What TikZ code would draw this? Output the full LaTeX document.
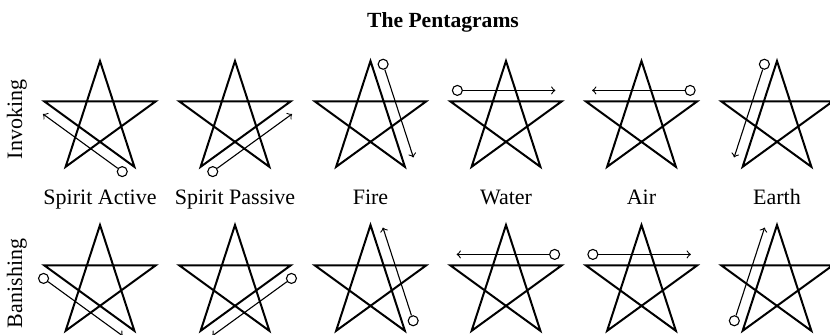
\documentclass[tikz,border=0pt]{standalone}
\usepackage{fontspec}
\setmainfont{Liberation Serif}
\usetikzlibrary{calc}
\tikzset{
  star/.style={line width=1pt},
  trace/.style={line width=0.55pt,->},
  ring/.style={circle,draw,line width=0.55pt,fill=white,inner sep=0pt,minimum size=5pt},
  caption/.style={font=\fontsize{11}{13}\selectfont}
}
\begin{document}
\begin{tikzpicture}[x=0.5pt,y=0.5pt]
\useasboundingbox (0,0) rectangle (830,-335);
\node[caption,font=\fontsize{10.8}{13}\selectfont\bfseries,anchor=base] (title) at (443,-28) {The Pentagrams};
% the twelve stars
\foreach \r/\y in {inv/-119.5,ban/-283.5}
  \foreach \s/\x in {sa/100,sp/235,fire/370.5,water/506,air/641.5,earth/777} {
    \coordinate (\r-\s) at (\x,\y);
    \coordinate (\r-\s-t) at ($(\r-\s)+(90:58.5)$);
    \coordinate (\r-\s-ul) at ($(\r-\s)+(162:58.5)$);
    \coordinate (\r-\s-ll) at ($(\r-\s)+(234:58.5)$);
    \coordinate (\r-\s-lr) at ($(\r-\s)+(306:58.5)$);
    \coordinate (\r-\s-ur) at ($(\r-\s)+(18:58.5)$);
    \draw[star] (\r-\s-t) -- (\r-\s-ll) -- (\r-\s-ur) -- (\r-\s-ul) -- (\r-\s-lr) -- cycle;
  }
% start ring and arrow beside one edge of each star
\foreach \s/\p/\q/\a in {inv-sa/lr/ul/90,inv-sp/ll/ur/-90,inv-fire/t/lr/90,
    inv-water/ul/ur/90,inv-air/ur/ul/-90,inv-earth/t/ll/-90,
    ban-sa/ul/lr/-90,ban-sp/ur/ll/90,ban-fire/lr/t/-90,
    ban-water/ur/ul/-90,ban-air/ul/ur/90,ban-earth/ll/t/90} {
  \node[ring] (\s-o) at ($(\s-\p)!3.5pt!(\s-\q)!5.5pt!\a:(\s-\q)$) {};
  \coordinate (\s-e) at ($(\s-\p)!52.5pt!(\s-\q)!5.5pt!\a:(\s-\q)$);
  \draw[trace] (\s-o) -- (\s-e);
}
% names
\foreach \s/\x/\t in {sa/100/Spirit Active,sp/235/Spirit Passive,fire/370.5/Fire,
    water/506/Water,air/641.5/Air,earth/777/Earth}
  \node[caption,anchor=base] (name-\s) at (\x,-205) {\t};
\node[caption,rotate=90,anchor=base] (inv-label) at (22,-119.5) {Invoking};
\node[caption,rotate=90,anchor=base] (ban-label) at (22,-283.5) {Banishing};
\end{tikzpicture}
\end{document}
